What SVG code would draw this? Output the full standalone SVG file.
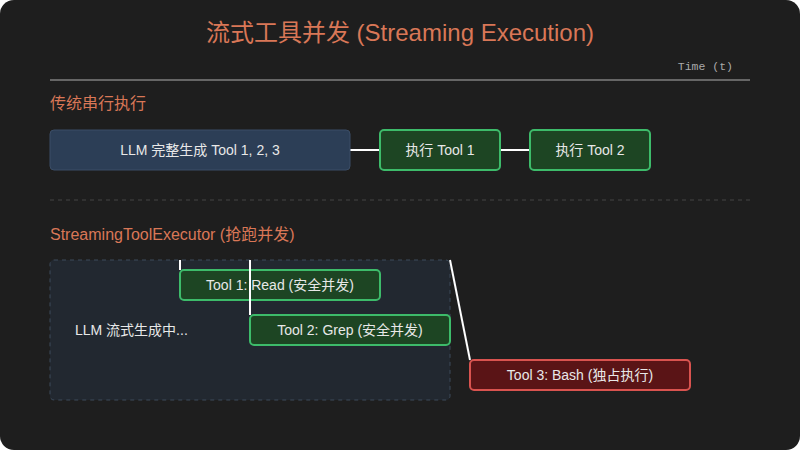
<svg xmlns="http://www.w3.org/2000/svg" width="800" height="450" viewBox="0 0 800 450">
<style>
.h{font-family:"Liberation Sans","Noto Sans CJK SC",sans-serif;fill:#d97757}
.t{font-family:"Liberation Sans","Noto Sans CJK SC",sans-serif;font-size:14px;fill:#e8e8e8;text-anchor:middle;dominant-baseline:central}
.g{fill:#1d4523;stroke:#3dbb6a;stroke-width:2}
.r{fill:#5a1416;stroke:#d9534f;stroke-width:2}
.c{stroke:#ffffff;stroke-width:2;fill:none}
</style>
<rect x="0" y="0" width="800" height="450" rx="14" fill="#1e1e1e"/>
<text class="h" x="400" y="41" font-size="24" text-anchor="middle">流式工具并发 (Streaming Execution)</text>
<text x="733" y="70" font-family="Liberation Mono,monospace" font-size="11.5" fill="#aaaaaa" text-anchor="end">Time (t)</text>
<line x1="50" y1="80" x2="750" y2="80" stroke="#666" stroke-width="2"/>
<text class="h" x="50" y="109" font-size="16">传统串行执行</text>
<line x1="50" y1="200" x2="750" y2="200" stroke="#444" stroke-width="1" stroke-dasharray="4,4"/>
<text class="h" x="50" y="240" font-size="16">StreamingToolExecutor (抢跑并发)</text>
<g id="stream-area">
<rect x="50" y="260" width="400" height="140" rx="4" fill="#222830" stroke="#3c4a5a" stroke-dasharray="4,4"/>
<text x="75" y="330" font-family="Liberation Sans,Noto Sans CJK SC,sans-serif" font-size="14" fill="#e8e8e8" dominant-baseline="central">LLM 流式生成中...</text>
</g>
<g id="connectors">
<line class="c" x1="350" y1="150" x2="380" y2="150"/>
<line class="c" x1="500" y1="150" x2="530" y2="150"/>
<line class="c" x1="180" y1="260" x2="180" y2="270"/>
<line class="c" x1="450" y1="260" x2="470" y2="360"/>
</g>
<g id="llm-full"><rect x="50" y="130" width="300" height="40" rx="4" fill="#2c3e56" stroke="#3b4d66" stroke-width="1"/><text class="t" x="200" y="150">LLM 完整生成 Tool 1, 2, 3</text></g>
<g id="exec1"><rect class="g" x="380" y="130" width="120" height="40" rx="4"/><text class="t" x="440" y="150">执行 Tool 1</text></g>
<g id="exec2"><rect class="g" x="530" y="130" width="120" height="40" rx="4"/><text class="t" x="590" y="150">执行 Tool 2</text></g>
<g id="tool1"><rect class="g" x="180" y="270" width="200" height="30" rx="4"/><text class="t" x="280" y="285">Tool 1: Read (安全并发)</text></g>
<g id="tool2"><rect class="g" x="250" y="315" width="200" height="30" rx="4"/><text class="t" x="350" y="330">Tool 2: Grep (安全并发)</text></g>
<g id="tool3"><rect class="r" x="470" y="360" width="220" height="30" rx="4"/><text class="t" x="580" y="375">Tool 3: Bash (独占执行)</text></g>
<line class="c" x1="250" y1="260" x2="250" y2="315"/>
</svg>
